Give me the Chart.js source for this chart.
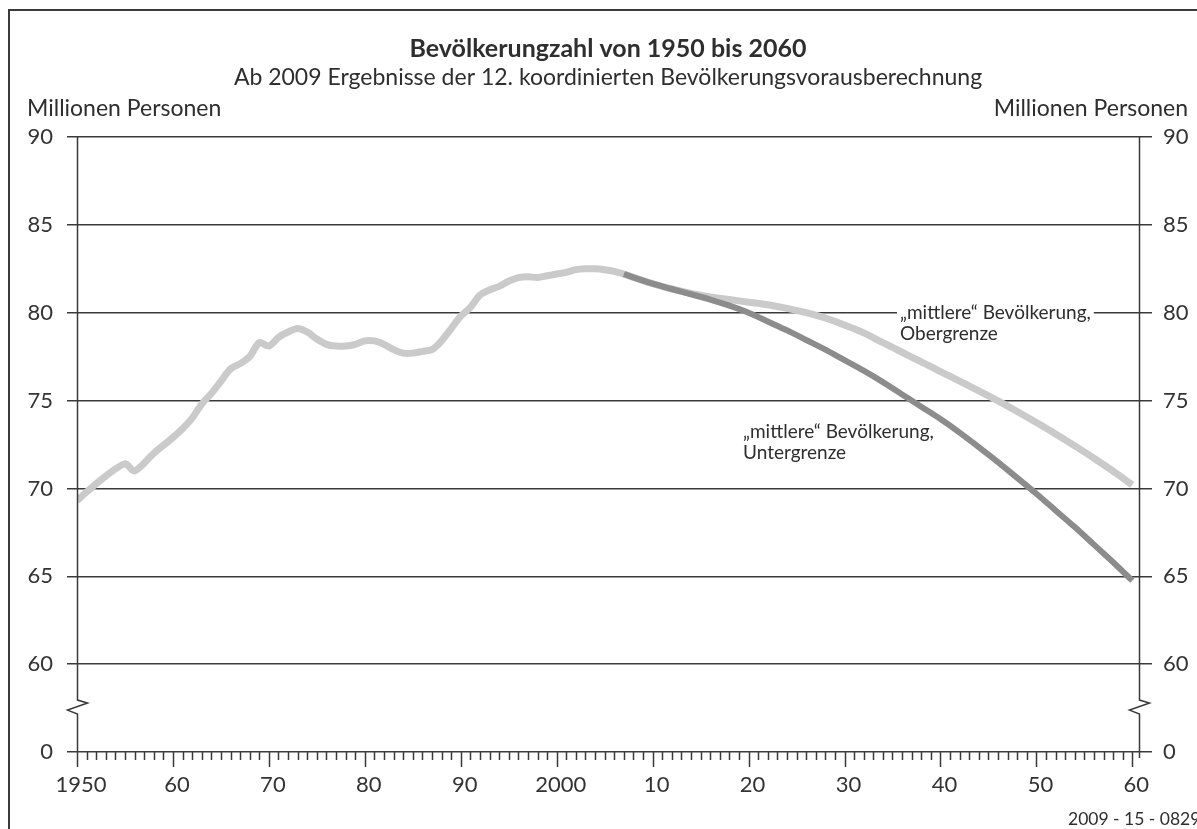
<!DOCTYPE html>
<html lang="de">
<head>
<meta charset="utf-8">
<title>Bevölkerungzahl von 1950 bis 2060</title>
<script src="https://cdn.jsdelivr.net/npm/chart.js@4.4.1/dist/chart.umd.min.js"></script>
<style>
  html, body { margin: 0; padding: 0; background: #fff; }
  #wrap { position: relative; width: 1197px; height: 829px; }
</style>
</head>
<body>
<div id="wrap"><canvas id="chart" width="1197" height="829"></canvas></div>
<script>
// --- data (Mio. Personen) ---
const histYears = [1950, 1951, 1953, 1955, 1956, 1958, 1960, 1961, 1962, 1963, 1964, 1965, 1966, 1967, 1968, 1969,
  1970, 1971, 1972, 1973, 1974, 1975, 1976, 1977, 1978, 1979, 1980, 1981, 1982, 1983, 1984, 1985, 1986, 1987, 1988, 1989,
  1990, 1991, 1992, 1993, 1994, 1995, 1996, 1997, 1998, 1999, 2000, 2001, 2002, 2003, 2004, 2005, 2006, 2007];
const histValues = [69.3, 69.8, 70.7, 71.4, 71.0, 72.0, 72.9, 73.4, 74.0, 74.8, 75.4, 76.1, 76.8, 77.1, 77.5, 78.3,
  78.1, 78.6, 78.9, 79.1, 78.9, 78.5, 78.2, 78.1, 78.1, 78.2, 78.4, 78.4, 78.2, 77.9, 77.7, 77.7, 77.8, 77.9, 78.4, 79.1,
  79.8, 80.3, 81.0, 81.3, 81.5, 81.8, 82.0, 82.05, 82.0, 82.1, 82.2, 82.3, 82.45, 82.5, 82.5, 82.45, 82.35, 82.2];

const projYears = [2007, 2010, 2012, 2014, 2016, 2018, 2020, 2022, 2024, 2026, 2028, 2030, 2032, 2034, 2036, 2038,
  2040, 2042, 2044, 2046, 2048, 2050, 2052, 2054, 2056, 2058, 2060];
// "mittlere" Bevoelkerung, Obergrenze
const upperValues = [82.2, 81.65, 81.35, 81.1, 80.9, 80.75, 80.6, 80.45, 80.25, 80.0, 79.7, 79.3, 78.85, 78.3, 77.75, 77.2,
  76.65, 76.1, 75.55, 74.98, 74.38, 73.75, 73.1, 72.42, 71.72, 70.98, 70.2];
// "mittlere" Bevoelkerung, Untergrenze
const lowerValues = [82.2, 81.65, 81.35, 81.05, 80.75, 80.4, 80.0, 79.5, 79.0, 78.45, 77.9, 77.3, 76.7, 76.05, 75.35, 74.65,
  73.95, 73.18, 72.35, 71.5, 70.6, 69.7, 68.75, 67.8, 66.8, 65.8, 64.75];

const xTickYears = [1950, 1960, 1970, 1980, 1990, 2000, 2010, 2020, 2030, 2040, 2050, 2060];
// broken axis: the bottom step (55) is labelled 0
const yBreakValue = 55;

const toPoints = (xs, ys) => xs.map((x, i) => ({ x: x, y: ys[i] }));

const FONT = 'Lato, "Open Sans", sans-serif';
Chart.defaults.font.family = FONT;
Chart.defaults.color = '#333';

const gridColor = '#3a3a3a';

// frame, axis break, year ticks, titles and labels
const decor = {
  id: 'decor',
  afterDatasetsDraw(chart) {
    const ctx = chart.ctx;
    const x = chart.scales.x, y = chart.scales.y;
    const base = y.getPixelForValue(yBreakValue);
    const top = y.getPixelForValue(90);
    const mid = y.getPixelForValue(57.5);

    ctx.save();
    ctx.strokeStyle = gridColor;
    ctx.lineWidth = 1.5;

    // vertical axes with zigzag break
    const drawAxis = (px, extra) => {
      ctx.beginPath();
      ctx.moveTo(px, top);
      ctx.lineTo(px, mid - 8);
      ctx.lineTo(px + 10, mid - 5);
      ctx.lineTo(px - 10, mid + 2);
      ctx.lineTo(px, mid + 6);
      ctx.lineTo(px, base + extra);
      ctx.stroke();
    };
    drawAxis(Math.round(chart.chartArea.left) + 0.5, 0);
    drawAxis(Math.round(chart.chartArea.right) - 0.5, 6);

    // yearly ticks, long ones every 10 years
    ctx.beginPath();
    for (let yr = 1950; yr <= 2060; yr++) {
      const px = Math.round(x.getPixelForValue(yr)) + 0.5;
      ctx.moveTo(px, base);
      ctx.lineTo(px, base + (yr % 10 === 0 ? 15 : 8));
    }
    ctx.stroke();

    // outer frame
    ctx.lineWidth = 2;
    ctx.beginPath();
    ctx.moveTo(9, 829);
    ctx.lineTo(9, 10);
    ctx.lineTo(1197, 10);
    ctx.stroke();

    // titles
    ctx.fillStyle = '#2e2e2e';
    ctx.textBaseline = 'alphabetic';
    ctx.textAlign = 'center';
    ctx.font = 'bold 25px ' + FONT;
    ctx.fillText('Bevölkerungzahl von 1950 bis 2060', 608, 57);
    ctx.font = '23px ' + FONT;
    ctx.fillText('Ab 2009 Ergebnisse der 12. koordinierten Bevölkerungsvorausberechnung', 608, 85);
    ctx.textAlign = 'left';
    ctx.fillText('Millionen Personen', 27, 116);
    ctx.textAlign = 'right';
    ctx.fillText('Millionen Personen', 1188, 116);

    // series labels
    ctx.font = '19px ' + FONT;
    ctx.textAlign = 'left';
    ctx.textBaseline = 'middle';
    const oy = y.getPixelForValue(80);
    const lbl1 = '\u201Emittlere\u201C Bevölkerung,';
    const w1 = ctx.measureText(lbl1).width;
    ctx.fillStyle = '#fff';
    ctx.fillRect(897, oy - 3, w1 + 6, 6);
    ctx.fillStyle = '#2e2e2e';
    ctx.fillText(lbl1, 900, oy);
    ctx.fillText('Obergrenze', 900, oy + 21);
    ctx.fillText(lbl1, 743, 432);
    ctx.fillText('Untergrenze', 743, 453);

    // source code
    ctx.font = '17.5px ' + FONT;
    ctx.fillText('2009 - 15 - 0829', 1068, 819);
    ctx.restore();
  }
};

new Chart(document.getElementById('chart'), {
  type: 'line',
  data: {
    datasets: [
      {
        label: '\u201Emittlere\u201C Bevölkerung, Untergrenze',
        data: toPoints(projYears, lowerValues),
        borderColor: '#8c8c8c',
        borderWidth: 6,
        cubicInterpolationMode: 'monotone',
        pointRadius: 0,
        order: 0
      },
      {
        label: '\u201Emittlere\u201C Bevölkerung, Obergrenze',
        data: toPoints(projYears, upperValues),
        borderColor: '#cacaca',
        borderWidth: 7,
        cubicInterpolationMode: 'monotone',
        pointRadius: 0,
        order: 1
      },
      {
        label: 'Bevölkerung',
        data: toPoints(histYears, histValues),
        borderColor: '#cacaca',
        borderWidth: 7,
        tension: 0.3,
        pointRadius: 0,
        order: 1
      }
    ]
  },
  options: {
    responsive: false,
    animation: false,
    layout: { padding: { top: 137, left: 0, right: 0, bottom: 0 } },
    plugins: { legend: { display: false }, tooltip: { enabled: false } },
    scales: {
      x: {
        type: 'linear',
        min: 1950,
        max: 2060.8,
        afterBuildTicks: (s) => { s.ticks = xTickYears.map(v => ({ value: v })); },
        afterFit: (s) => { s.height = 77; },
        grid: { display: false, drawTicks: false },
        border: { display: false },
        ticks: {
          autoSkip: false,
          maxRotation: 0,
          padding: 20,
          labelOffset: 4,
          font: { size: 22 },
          color: '#333',
          callback: (v) => (v === 1950 || v === 2000) ? String(v) : String(v % 100).padStart(2, '0')
        }
      },
      y: {
        position: 'left',
        min: yBreakValue,
        max: 90,
        afterFit: (s) => { s.width = 77; },
        grid: { color: gridColor, lineWidth: 1.5, tickLength: 10, drawTicks: true },
        border: { display: false },
        ticks: {
          stepSize: 5,
          padding: 14,
          font: { size: 22 },
          color: '#333',
          callback: (v) => v === yBreakValue ? '0' : String(v)
        }
      },
      y2: {
        position: 'right',
        min: yBreakValue,
        max: 90,
        afterFit: (s) => { s.width = 57; },
        grid: { color: gridColor, lineWidth: 1.5, tickLength: 12, drawOnChartArea: false },
        border: { display: false },
        ticks: {
          stepSize: 5,
          padding: 11,
          font: { size: 22 },
          color: '#333',
          callback: (v) => v === yBreakValue ? '0' : String(v)
        }
      }
    }
  },
  plugins: [decor]
});
</script>
</body>
</html>
